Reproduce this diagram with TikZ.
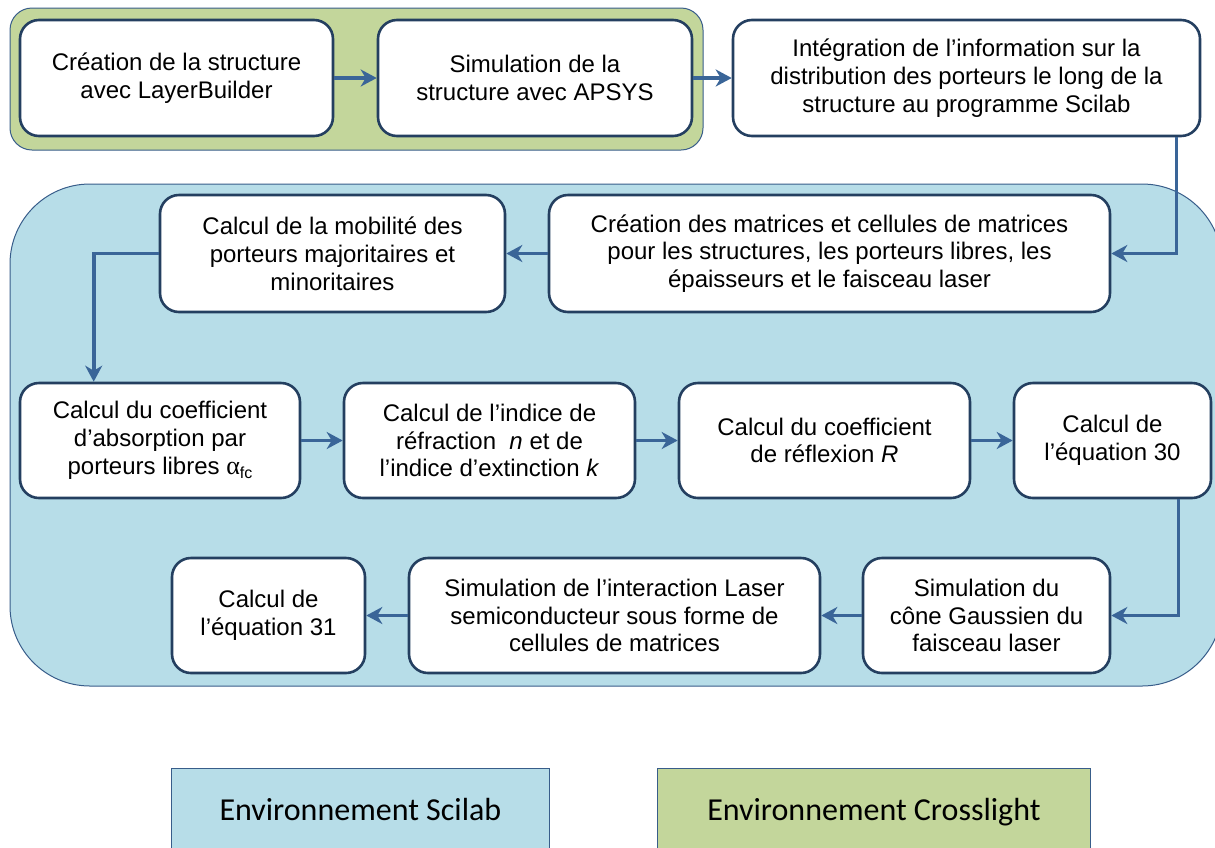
\documentclass[tikz,border=0pt]{standalone}
\usepackage{fontspec}
\setmainfont{Liberation Sans}
\newfontfamily\calib{Carlito}
\newfontfamily\greekserif{Liberation Serif}
\usetikzlibrary{arrows.meta,calc}
\definecolor{scilab}{HTML}{B7DDE8}
\definecolor{crosslight}{HTML}{C3D69B}
\definecolor{boxline}{HTML}{243F60}
\definecolor{arrowc}{HTML}{3A6598}
\definecolor{regline}{HTML}{385D8A}
\tikzset{
  procbox/.style={draw=boxline, line width=2.6pt, fill=white, rounded corners=19pt,
    align=center, inner sep=0pt, font=\fontsize{24}{27.8}\selectfont,
    execute at begin node={\rule{0pt}{24.5pt}}},
  flow/.style={draw=arrowc, line width=3.6pt, -{Stealth[length=16pt,width=17pt,inset=5pt]}},
  region/.style={draw=regline, line width=1pt},
  legendbox/.style={draw=regline, line width=0.8pt, inner sep=0pt},
  legendtext/.style={font=\calib\fontsize{32}{36}\selectfont, anchor=base}
}
\begin{document}
\begin{tikzpicture}[x=1pt,y=-1pt]
\useasboundingbox (0,0) rectangle (1215,847);
\clip (0,0) rectangle (1215,847);
% regions
\path[region, fill=crosslight, rounded corners=22pt] (10,8) rectangle (703,150);
\path[region, fill=scilab, rounded corners=80pt] (10,184) rectangle (1222,686);
% boxes
\node[procbox, minimum width=313pt, minimum height=116pt] (A) at (176.5,78) {Création de la structure\\avec LayerBuilder};
\node[procbox, minimum width=314pt, minimum height=116pt] (B) at (535,78) {Simulation de la\\structure avec APSYS};
\node[procbox, minimum width=467pt, minimum height=116pt] (C) at (966.5,78) {Intégration de l’information sur la\\distribution des porteurs le long de la\\structure au programme Scilab};
\node[procbox, minimum width=561pt, minimum height=117pt] (D) at (829.5,253.5) {Création des matrices et cellules de matrices\\pour les structures, les porteurs libres, les\\épaisseurs et le faisceau laser};
\node[procbox, minimum width=345pt, minimum height=117pt] (E) at (332.5,253.5) {Calcul de la mobilité des\\porteurs majoritaires et\\minoritaires};
\node[procbox, minimum width=280pt, minimum height=115pt] (F) at (160,440.5) {Calcul du coefficient\\d’absorption par\\porteurs libres {\greekserif\fontsize{26}{26}\selectfont α}{\raisebox{-0.3ex}{\fontsize{16}{16}\selectfont fc}}};
\node[procbox, minimum width=291pt, minimum height=115pt] (G) at (489.5,440.5) {Calcul de l’indice de\\réfraction~~\textit{n} et de\\l’indice d’extinction \textit{k}};
\node[procbox, minimum width=291pt, minimum height=115pt] (H) at (824.5,440.5) {Calcul du coefficient\\de réflexion \textit{R}};
\node[procbox, minimum width=197pt, minimum height=115pt] (I) at (1112.5,440.5) {Calcul de\\l’équation 30};
\node[procbox, minimum width=247pt, minimum height=115pt] (J) at (986.5,615.5) {Simulation du\\cône Gaussien du\\faisceau laser};
\node[procbox, minimum width=411pt, minimum height=115pt] (K) at (614.5,615.5) {Simulation de l’interaction Laser\\semiconducteur sous forme de\\cellules de matrices};
\node[procbox, minimum width=193pt, minimum height=115pt] (L) at (268.5,615.5) {Calcul de\\l’équation 31};
% connectors
\draw[flow] (A.east) -- (B.west);
\draw[flow] (B.east) -- (C.west);
\draw[flow] ($(C.south east)+(-25,0)$) |- (D.east);
\draw[flow] (D.west) -- (E.east);
\draw[flow] (E.west) -| ($(F.north west)+(75,0)$);
\draw[flow] (F.east) -- (G.west);
\draw[flow] (G.east) -- (H.west);
\draw[flow] (H.east) -- (I.west);
\draw[flow] ($(I.south east)+(-34,0)$) |- (J.east);
\draw[flow] (J.west) -- (K.east);
\draw[flow] (K.west) -- (L.east);
% legend
\node[legendbox, fill=scilab, minimum width=378pt, minimum height=100pt, anchor=north west] (S) at (171,768) {};
\node[legendtext] (St) at ($(S.north)+(0,52)$) {Environnement Scilab};
\node[legendbox, fill=crosslight, minimum width=433pt, minimum height=100pt, anchor=north west] (X) at (657,768) {};
\node[legendtext] (Xt) at ($(X.north)+(0,52)$) {Environnement Crosslight};
\end{tikzpicture}
\end{document}
